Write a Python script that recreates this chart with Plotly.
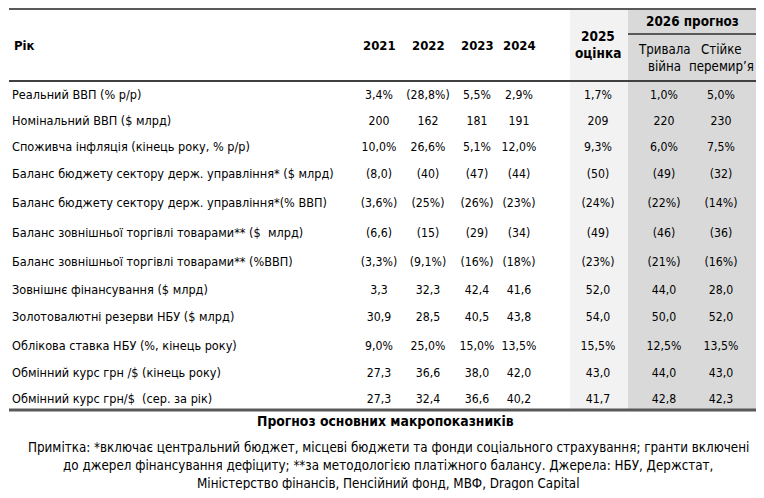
import plotly.graph_objects as go

# table content
row_labels = [
    "Реальний ВВП (% р/р)",
    "Номінальний ВВП ($ млрд)",
    "Споживча інфляція (кінець року, % р/р)",
    "Баланс бюджету сектору держ. управління* ($ млрд)",
    "Баланс бюджету сектору держ. управління*(% ВВП)",
    "Баланс зовнішньої торгівлі товарами** ($  млрд)",
    "Баланс зовнішньої торгівлі товарами** (%ВВП)",
    "Зовнішнє фінансування ($ млрд)",
    "Золотовалютні резерви НБУ ($ млрд)",
    "Облікова ставка НБУ (%, кінець року)",
    "Обмінний курс грн /$ (кінець року)",
    "Обмінний курс грн/$  (сер. за рік)",
]

col_2021 = ["3,4%", "200", "10,0%", "(8,0)", "(3,6%)", "(6,6)", "(3,3%)", "3,3", "30,9", "9,0%", "27,3", "27,3"]
col_2022 = ["(28,8%)", "162", "26,6%", "(40)", "(25%)", "(15)", "(9,1%)", "32,3", "28,5", "25,0%", "36,6", "32,4"]
col_2023 = ["5,5%", "181", "5,1%", "(47)", "(26%)", "(29)", "(16%)", "42,4", "40,5", "15,0%", "38,0", "36,6"]
col_2024 = ["2,9%", "191", "12,0%", "(44)", "(23%)", "(34)", "(18%)", "41,6", "43,8", "13,5%", "42,0", "40,2"]
col_2025 = ["1,7%", "209", "9,3%", "(50)", "(24%)", "(49)", "(23%)", "52,0", "54,0", "15,5%", "43,0", "41,7"]
col_war = ["1,0%", "220", "6,0%", "(49)", "(22%)", "(46)", "(21%)", "44,0", "50,0", "12,5%", "44,0", "42,8"]
col_truce = ["5,0%", "230", "7,5%", "(32)", "(14%)", "(36)", "(16%)", "28,0", "52,0", "13,5%", "43,0", "42,3"]

year_headers = ["2021", "2022", "2023", "2024"]
header_2025 = ["2025", "оцінка"]
header_2026 = "2026 прогноз"
sub_headers = [["Тривала", "війна"], ["Стійке", "перемир’я"]]

title_text = "Прогноз основних макропоказників"
note_lines = [
    "Примітка: *включає центральний бюджет, місцеві бюджети та фонди соціального страхування; гранти включені",
    "до джерел фінансування дефіциту; **за методологією платіжного балансу. Джерела: НБУ, Держстат,",
    "Міністерство фінансів, Пенсійний фонд, МВФ, Dragon Capital",
]

FONT = "Tahoma, DejaVu Sans Condensed, DejaVu Sans, sans-serif"
# page has an 8px body margin, so the axes are set up in page pixels
X0, Y0, X1, Y1 = 8, 8, 756, 490

row_y = [96, 122, 148, 175, 204, 234, 263, 291, 318, 347, 374, 400]
col_x = [379, 428, 477, 519, 598, 664, 721]
columns = [col_2021, col_2022, col_2023, col_2024, col_2025, col_war, col_truce]

fig = go.Figure()

# shaded columns
fig.add_shape(type="rect", x0=570, x1=628, y0=8, y1=410, fillcolor="#f2f2f2", line_width=0, layer="below")
fig.add_shape(type="rect", x0=628, x1=756, y0=8, y1=410, fillcolor="#d9d9d9", line_width=0, layer="below")

# rules
fig.add_shape(type="line", x0=9, x1=756, y0=9, y1=9, line=dict(color="#595959", width=2))
fig.add_shape(type="line", x0=9, x1=756, y0=81, y1=81, line=dict(color="#404040", width=2))
fig.add_shape(type="line", x0=628, x1=756, y0=34, y1=34, line=dict(color="#595959", width=2))
fig.add_shape(type="line", x0=9, x1=756, y0=410, y1=410, line=dict(color="#595959", width=3))

# row labels
fig.add_trace(go.Scatter(x=[12] * len(row_labels), y=row_y, text=row_labels, mode="text",
                         textposition="middle right", textfont=dict(family=FONT, size=12.6, color="#000"),
                         hoverinfo="skip", cliponaxis=False))

# values
for cx, vals in zip(col_x, columns):
    fig.add_trace(go.Scatter(x=[cx] * len(vals), y=row_y, text=vals, mode="text",
                             textposition="middle center", textfont=dict(family=FONT, size=12.2, color="#000"),
                             hoverinfo="skip", cliponaxis=False))


def label(x, y, text, size, xanchor="center"):
    fig.add_annotation(x=x, y=y, xref="x", yref="y", text=text, showarrow=False,
                       xanchor=xanchor, yanchor="middle",
                       font=dict(family=FONT, size=size, color="#000"))


# headers
label(12, 45, "<b>Рік</b>", 13, xanchor="left")
for cx, t in zip(col_x[:4], year_headers):
    label(cx, 45, "<b>%s</b>" % t, 13)
label(col_x[4], 36, "<b>%s</b>" % header_2025[0], 13.5)
label(col_x[4], 53, "<b>%s</b>" % header_2025[1], 13.5)
label(692, 21, "<b>%s</b>" % header_2026, 13.4)
for cx, (a, b) in zip(col_x[5:], sub_headers):
    label(cx, 49, a, 13.2)
    label(cx, 66, b, 13.2)

label(385, 421, "<b>%s</b>" % title_text, 13.8)
for y, t in zip([447, 465, 483], note_lines):
    label(388, y, t, 13.3)

fig.update_xaxes(range=[X0, X1], visible=False, fixedrange=True)
fig.update_yaxes(range=[Y1, Y0], visible=False, fixedrange=True)
fig.update_layout(width=X1 - X0, height=Y1 - Y0, margin=dict(l=0, r=0, t=0, b=0), showlegend=False,
                  plot_bgcolor="white", paper_bgcolor="white")

fig.write_html("out.html")
